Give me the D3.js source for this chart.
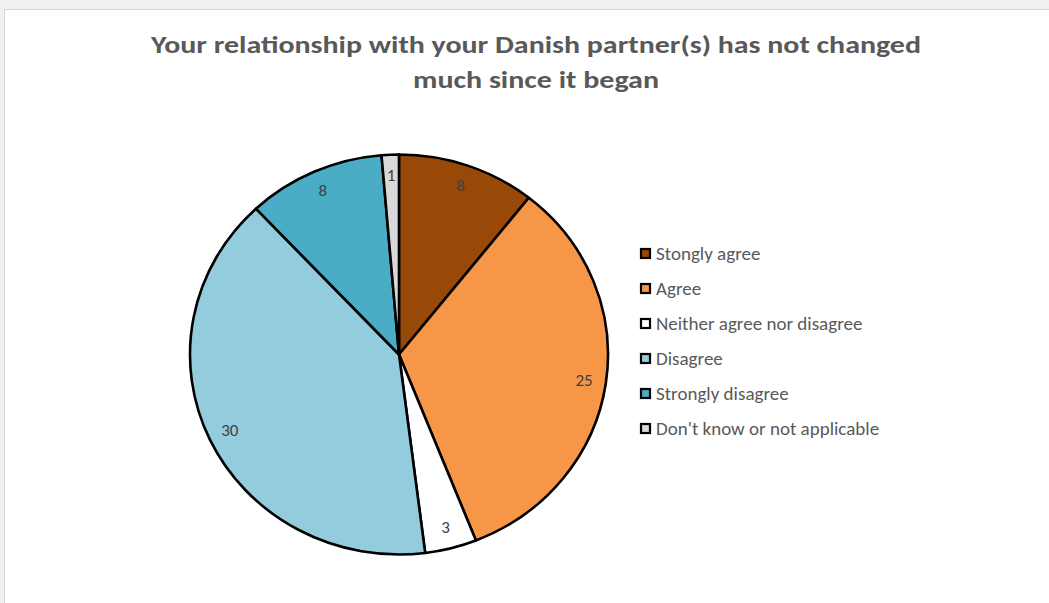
<!DOCTYPE html>
<html>
<head>
<meta charset="utf-8">
<script src="https://cdn.jsdelivr.net/npm/d3@7/dist/d3.min.js"></script>
<style>
  html, body { margin: 0; padding: 0; background: #f0f0f0; }
  svg { display: block; }
</style>
</head>
<body>
<svg id="chart" width="1049" height="603"></svg>
<script>
// Survey answers, clockwise from 12 o'clock
const categories = ["Stongly agree", "Agree", "Neither agree nor disagree", "Disagree", "Strongly disagree", "Don't know or not applicable"];
const counts = [8, 25, 3, 30, 8, 1];
const colors = ["#984807", "#F79646", "#FFFFFF", "#93CDDD", "#4BACC6", "#D9D9D9"];
const titleLines = ["Your relationship with your Danish partner(s) has not changed", "much since it began"];

const W = 1049, H = 603;
const svg = d3.select("#chart");
const font = "Carlito, Lato, 'Noto Sans', sans-serif";

// chart area panel
svg.append("rect").attr("x", 4.5).attr("y", 9.5).attr("width", W + 10).attr("height", H + 10)
  .attr("fill", "#ffffff").attr("stroke", "#d4d4d4").attr("stroke-width", 1);

// title
const title = svg.append("text").attr("text-anchor", "middle")
  .attr("font-family", font).attr("font-weight", "bold").attr("font-size", 23.5)
  .attr("fill", "#595959");
titleLines.forEach((t, i) => {
  title.append("tspan").attr("x", 536).attr("y", 53 + i * 34.5).text(t);
});
// fit title widths to the layout
const titleWidths = [770, 246];
title.selectAll("tspan").each(function(d, i) {
  d3.select(this).attr("textLength", titleWidths[i]).attr("lengthAdjust", "spacingAndGlyphs");
});

// pie
const cx = 399, cy = 354.5, R = 200, sx = 209 / 200;
const pie = d3.pie().sort(null).value(d => d)(counts);
const arc = d3.arc().innerRadius(0).outerRadius(R);
const labelArc = d3.arc().innerRadius(R * 0.895).outerRadius(R * 0.895);

const g = svg.append("g").attr("transform", `translate(${cx},${cy}) scale(${sx},1)`);
g.selectAll("path").data(pie).join("path")
  .attr("d", arc)
  .attr("fill", (d, i) => colors[i])
  .attr("stroke", "#000")
  .attr("stroke-width", 2.6)
  .attr("stroke-linejoin", "round")
  .attr("vector-effect", "non-scaling-stroke");

// value labels
svg.append("g").selectAll("text").data(pie).join("text")
  .attr("x", d => cx + labelArc.centroid(d)[0] * sx)
  .attr("y", d => cy + labelArc.centroid(d)[1])
  .attr("text-anchor", "middle").attr("dominant-baseline", "central")
  .attr("font-family", font).attr("font-size", 17).attr("fill", "#404040")
  .text(d => d.data);

// legend
const legend = svg.append("g").attr("transform", "translate(640,253.5)");
const rows = legend.selectAll("g").data(categories).join("g")
  .attr("transform", (d, i) => `translate(0,${i * 35})`);
rows.append("rect").attr("x", 1).attr("y", -4.5).attr("width", 9).attr("height", 9)
  .attr("fill", (d, i) => colors[i]).attr("stroke", "#000").attr("stroke-width", 2.2);
rows.append("text").attr("x", 16).attr("y", 0).attr("dominant-baseline", "central")
  .attr("font-family", font).attr("font-size", 19).attr("fill", "#595959")
  .text(d => d);
</script>
</body>
</html>
